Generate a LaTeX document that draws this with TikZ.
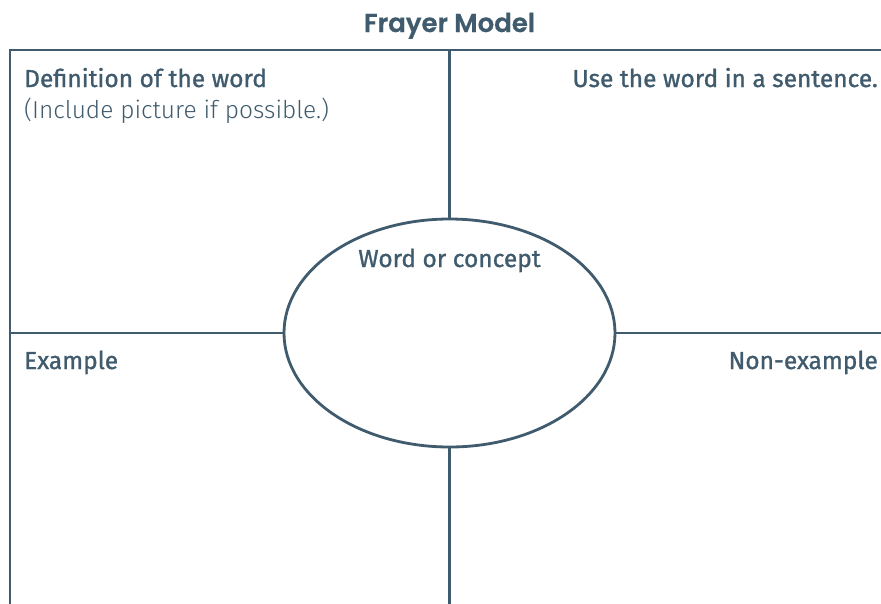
\documentclass[tikz,border=0pt]{standalone}
\usepackage{fontspec}
\setmainfont{Fira Sans}
\newfontfamily\titlefont{Poppins}[UprightFont=* SemiBold]
\newfontfamily\lightfont{Fira Sans Light}
\usetikzlibrary{shapes.geometric}
\definecolor{slate}{HTML}{3F5B6D}
\begin{document}
\begin{tikzpicture}[x=1pt,y=-1pt,
  frame/.style={draw=slate,line width=2.8pt},
  lbl/.style={text=slate,font=\fontsize{24.5}{28}\selectfont\mdseries,inner sep=0pt},
  blbl/.style={lbl,font=\fontsize{24.5}{28}\selectfont\addfontfeature{FakeBold=1.1}}]
\useasboundingbox[fill=white] (0,0) rectangle (881,603);
\node[ellipse,frame,minimum width=331pt,minimum height=228pt,inner sep=0pt] (ell) at (449.5,333) {};
\coordinate (tl) at (10,50);
\coordinate (tr) at (884,50);
\coordinate (bl) at (10,606);
\coordinate (mt) at (449.5,50);
\coordinate (mb) at (449.5,606);
\coordinate (ml) at (10,333);
\coordinate (mr) at (884,333);
\draw[frame] (bl) -- (tl) -- (tr);
\draw[frame] (mt) -- (ell.north);
\draw[frame] (ell.south) -- (mb);
\draw[frame] (ml) -- (ell.west);
\draw[frame] (ell.east) -- (mr);
\node[text=slate,font=\titlefont\fontsize{26}{30}\selectfont\addfontfeature{FakeBold=0.5},anchor=base] (title) at (449.5,32) {Frayer Model};
\node[blbl,anchor=base west] (def) at (24,87) {Definition of the word};
\node[lbl,font=\lightfont\fontsize{24.5}{28}\selectfont,anchor=base west] (inc) at (24,118) {(Include picture if possible.)};
\node[blbl,anchor=base east] (use) at (878,87) {Use the word in a sentence.};
\node[blbl,anchor=base] (word) at (449.5,267) {Word or concept};
\node[blbl,anchor=base west] (ex) at (24,369) {Example};
\node[blbl,anchor=base east] (nex) at (878,369) {Non-example};
\end{tikzpicture}
\end{document}
